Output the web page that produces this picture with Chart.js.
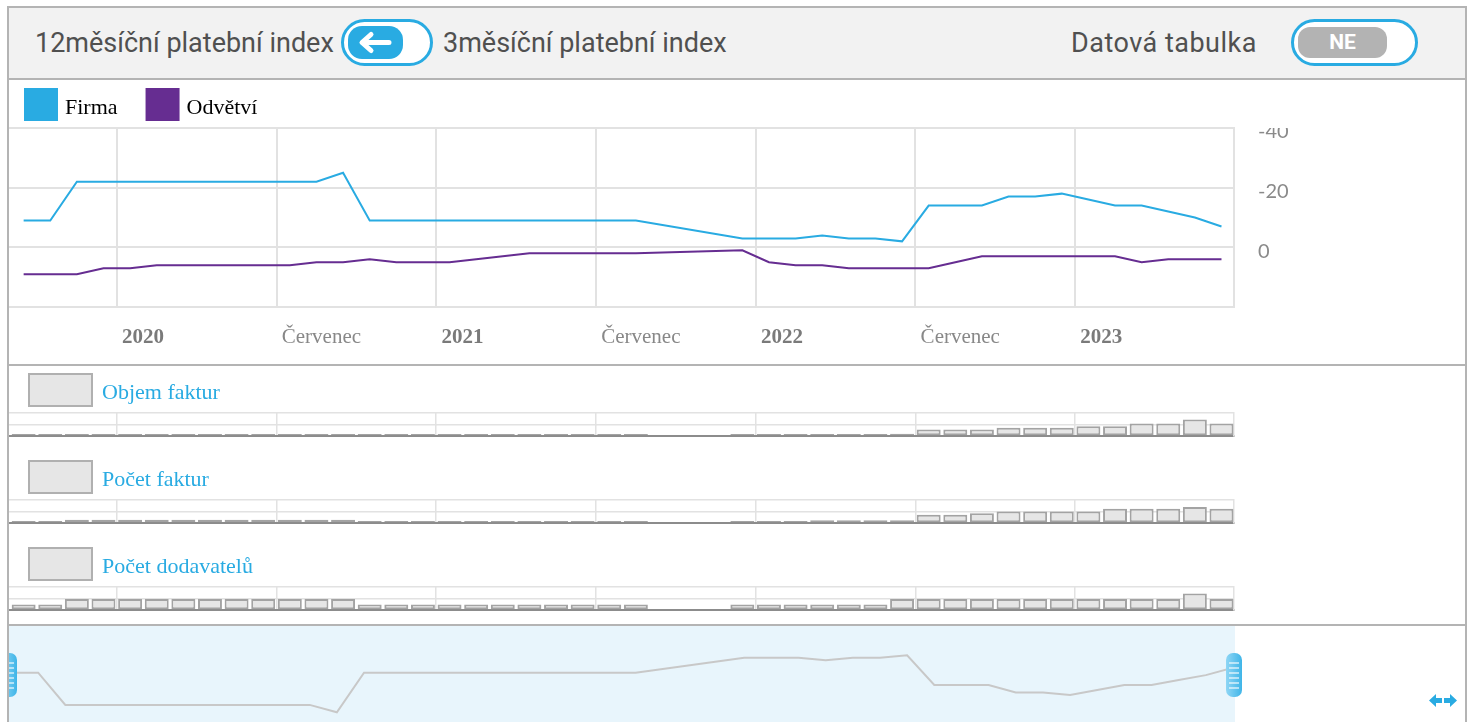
<!DOCTYPE html>
<html>
<head>
<meta charset="utf-8">
<script src="https://cdn.jsdelivr.net/npm/chart.js@4.4.1/dist/chart.umd.min.js"></script>
<style>
body{margin:0;background:#fff;width:1472px;height:722px;overflow:hidden;position:relative;font-family:Roboto,sans-serif}
.abs{position:absolute}
#frame{left:7px;top:6px;width:1456px;height:730px;border:2px solid #b4b4b4}
#head{left:9px;top:8px;width:1456px;height:70px;background:#f2f2f2;border-bottom:2px solid #b4b4b4}
.lbl{top:28px;font-size:27px;line-height:30px;color:#505050;white-space:nowrap}
.tog{top:19px;height:47px;box-sizing:border-box;border:3px solid #29abe2;border-radius:24px;background:#fff}
.sep{left:9px;width:1456px;height:2px;background:#b4b4b4}
canvas{position:absolute}
</style>
</head>
<body>
<div id="frame" class="abs"></div>
<div id="head" class="abs"></div>
<div class="abs lbl" style="left:35px">12měsíční platební index</div>
<div class="abs tog" style="left:341px;width:92px"></div>
<div class="abs" style="left:348px;top:26px;width:55px;height:33px;border-radius:14px;background:#29abe2">
  <svg width="55" height="33" viewBox="0 0 55 33"><path d="M41 16.5H15M23 8.5L14 16.5L23 24.5" fill="none" stroke="#fff" stroke-width="5" stroke-linecap="round" stroke-linejoin="round"/></svg>
</div>
<div class="abs lbl" style="left:443px">3měsíční platební index</div>
<div class="abs lbl" style="left:1071px;letter-spacing:0.5px">Datová tabulka</div>
<div class="abs tog" style="left:1291px;width:127px"></div>
<div class="abs" style="left:1298px;top:27px;width:89px;height:31px;border-radius:12px;background:#b3b3b3;color:#fff;font-weight:bold;font-size:21px;line-height:31px;text-align:center">NE</div>

<canvas id="main" width="1456" height="284" style="left:9px;top:80px"></canvas>
<div class="abs sep" style="top:364px"></div>
<canvas id="bar1" width="1456" height="84" style="left:9px;top:366px"></canvas>
<canvas id="bar2" width="1456" height="84" style="left:9px;top:453px"></canvas>
<canvas id="bar3" width="1456" height="84" style="left:9px;top:540px"></canvas>
<div class="abs sep" style="top:624px"></div>
<canvas id="nav" width="1456" height="96" style="left:9px;top:626px"></canvas>

<script>
// months Sep 2019 .. Jun 2023
var months = ['2019-09','2019-10','2019-11','2019-12',
  '2020-01','2020-02','2020-03','2020-04','2020-05','2020-06','2020-07','2020-08','2020-09','2020-10','2020-11','2020-12',
  '2021-01','2021-02','2021-03','2021-04','2021-05','2021-06','2021-07','2021-08','2021-09','2021-10','2021-11','2021-12',
  '2022-01','2022-02','2022-03','2022-04','2022-05','2022-06','2022-07','2022-08','2022-09','2022-10','2022-11','2022-12',
  '2023-01','2023-02','2023-03','2023-04','2023-05','2023-06'];

var firma = [-9,-9,-22,-22,-22,-22,-22,-22,-22,-22,-22,-22,-25,-9,-9,-9,-9,-9,-9,-9,-9,-9,-9,-9,
  null,null,null,-3,-3,-3,-4,-3,-3,-2,-14,-14,-14,-17,-17,-18,-16,-14,-14,-12,-10,-7];
var odvetvi = [9,9,9,7,7,6,6,6,6,6,6,5,5,4,5,5,5,4,3,2,2,2,2,2,
  null,null,null,1,5,6,6,7,7,7,7,5,3,3,3,3,3,3,5,4,4,4];

var objemFaktur = [1,1,1,1,1,1,1,1,1,1,1,1,1,1,1,1,1,1,1,1,1,1,1,1,
  null,null,null,1,1,1,1,1,1,4,12,12,12,15,15,15,18,18,23,23,30,23];
var pocetFaktur = [1,1,6,6,6,6,6,6,6,6,6,6,6,1,1,1,1,1,1,1,1,1,1,1,
  null,null,null,1,1,1,5,5,5,5,15,15,18,21,21,21,21,26,26,26,29,26];
var pocetDodavatelu = [1,1,2,2,2,2,2,2,2,2,2,2,2,1,1,1,1,1,1,1,1,1,1,1,
  null,null,null,1,1,1,1,1,1,2,2,2,2,2,2,2,2,2,2,2,3,2];

// x tick positions (month index, half = 1st day of month)
var xTicks = [3.5, 9.5, 15.5, 21.5, 27.5, 33.5, 39.5];
var xTickLabels = ['2020', 'Červenec', '2021', 'Červenec', '2022', 'Červenec', '2023'];
var yTicks = [-40, -20, 0, 20];
var yTickLabels = ['-40', '-20', '0', ''];

var xMin = -0.55, xMax = 45.47;
var gridColor = '#e2e2e2';

function points(arr) {
    var out = [];
    arr.forEach(function (v, i) { out.push({x: i, y: v}); });
    return out;
}
function barPoints(arr) {
    return points(arr).filter(function (p) { return p.y !== null; });
}

var mainLegend = {
    id: 'mainLegend',
    afterDraw: function (chart) {
        var ctx = chart.ctx;
        ctx.save();
        ctx.font = '22px "Liberation Serif"';
        ctx.textBaseline = 'middle';
        var x = 15;
        chart.data.datasets.forEach(function (ds) {
            ctx.fillStyle = ds.borderColor;
            ctx.fillRect(x, 8, 34, 33);
            ctx.fillStyle = '#000';
            ctx.fillText(ds.label, x + 41, 28);
            x += 41 + ctx.measureText(ds.label).width + 28;
        });
        ctx.restore();
    }
};

var yLabels = {
    id: 'yLabels',
    afterDraw: function (chart) {
        var ctx = chart.ctx, area = chart.chartArea, y = chart.scales.y;
        ctx.save();
        ctx.beginPath();
        ctx.rect(0, area.top, chart.width, chart.height - area.top);
        ctx.clip();
        ctx.font = '20px Lato';
        ctx.fillStyle = '#8a8a8a';
        ctx.textBaseline = 'middle';
        yTicks.forEach(function (v, i) {
            ctx.fillText(yTickLabels[i], area.right + 24, y.getPixelForValue(v) + 4);
        });
        ctx.restore();
    }
};

new Chart(document.getElementById('main'), {
    type: 'line',
    data: {
        datasets: [{
            label: 'Firma',
            data: points(firma),
            borderColor: '#29abe2',
            borderWidth: 2,
            pointRadius: 0,
            spanGaps: true
        }, {
            label: 'Odvětví',
            data: points(odvetvi),
            borderColor: '#662d91',
            borderWidth: 2,
            pointRadius: 0,
            spanGaps: true
        }]
    },
    options: {
        responsive: false,
        animation: false,
        layout: {padding: {top: 48}},
        plugins: {legend: {display: false}, tooltip: {enabled: false}},
        scales: {
            x: {
                type: 'linear', min: xMin, max: xMax,
                afterBuildTicks: function (s) { s.ticks = xTicks.map(function (v) { return {value: v}; }); },
                afterFit: function (s) { s.height = 57; },
                grid: {color: gridColor, lineWidth: 2, drawTicks: false},
                border: {display: false},
                ticks: {
                    autoSkip: false, maxRotation: 0, align: 'start', padding: 18,
                    callback: function (v, i) { return ' ' + xTickLabels[i]; },
                    color: function (c) { return c.index % 2 === 0 ? '#7a7a7a' : '#888'; },
                    font: function (c) {
                        return {family: '"Liberation Serif"', size: 21, weight: c.index % 2 === 0 ? 'bold' : 'normal'};
                    }
                }
            },
            y: {
                position: 'right', reverse: true, min: -40, max: 20,
                afterBuildTicks: function (s) { s.ticks = yTicks.map(function (v) { return {value: v}; }); },
                afterFit: function (s) { s.width = 231; },
                grid: {color: gridColor, lineWidth: 2, drawTicks: false},
                border: {display: true, color: gridColor, width: 2},
                ticks: {display: false}
            }
        }
    },
    plugins: [mainLegend, yLabels]
});

var panelTitle = {
    id: 'panelTitle',
    afterDraw: function (chart, args, opts) {
        var ctx = chart.ctx;
        ctx.save();
        ctx.fillStyle = '#e6e6e6';
        ctx.strokeStyle = '#b0b0b0';
        ctx.lineWidth = 2;
        ctx.fillRect(20, 8, 63, 32);
        ctx.strokeRect(20, 8, 63, 32);
        ctx.font = '22px "Liberation Serif"';
        ctx.fillStyle = '#29abe2';
        ctx.textBaseline = 'middle';
        ctx.fillText(opts.text, 93, 27);
        ctx.restore();
    }
};

function barChart(id, title, values, max, ticks) {
    return new Chart(document.getElementById(id), {
        type: 'bar',
        data: {
            datasets: [{
                label: title,
                data: barPoints(values),
                backgroundColor: '#e6e6e6',
                borderColor: '#a3a3a3',
                borderWidth: 2,
                borderSkipped: false,
                minBarLength: 2,
                barPercentage: 0.9,
                categoryPercentage: 1
            }]
        },
        options: {
            responsive: false,
            animation: false,
            layout: {padding: {top: 47, bottom: 14}},
            plugins: {legend: {display: false}, tooltip: {enabled: false}, panelTitle: {text: title}},
            scales: {
                x: {
                    type: 'linear', min: xMin, max: xMax, offset: false, z: 1,
                    afterBuildTicks: function (s) { s.ticks = xTicks.map(function (v) { return {value: v}; }); },
                    grid: {color: gridColor, lineWidth: 1.5, drawTicks: false, offset: false},
                    border: {display: true, color: '#8c8c8c', width: 2},
                    ticks: {display: false}
                },
                y: {
                    position: 'right', min: 0, max: max,
                    afterBuildTicks: function (s) { s.ticks = ticks.map(function (v) { return {value: v}; }); },
                    afterFit: function (s) { s.width = 231; },
                    grid: {color: gridColor, lineWidth: 1.5, drawTicks: false},
                    border: {display: true, color: gridColor, width: 1.5},
                    ticks: {display: false}
                }
            }
        },
        plugins: [panelTitle]
    });
}

barChart('bar1', 'Objem faktur', objemFaktur, 42, [0, 20, 42]);
barChart('bar2', 'Počet faktur', pocetFaktur, 42, [0, 20, 42]);
barChart('bar3', 'Počet dodavatelů', pocetDodavatelu, 4.2, [0, 2, 4.2]);

var navDecor = {
    id: 'navDecor',
    beforeDraw: function (chart) {
        var ctx = chart.ctx;
        ctx.save();
        ctx.fillStyle = '#e8f5fc';
        ctx.fillRect(0, 0, chart.chartArea.right + 2, chart.height);
        ctx.restore();
    },
    afterDraw: function (chart) {
        var ctx = chart.ctx, area = chart.chartArea;
        ctx.save();
        [0, area.right + 1].forEach(function (cx) {
            var g = ctx.createLinearGradient(cx - 8, 0, cx + 8, 0);
            g.addColorStop(0, '#8fd6f5');
            g.addColorStop(1, '#3fb5e8');
            ctx.fillStyle = g;
            ctx.beginPath();
            ctx.roundRect(cx - 8, 27, 16, 44, 7);
            ctx.fill();
            ctx.strokeStyle = 'rgba(255,255,255,0.75)';
            ctx.lineWidth = 1.5;
            for (var k = 0; k < 6; k++) {
                var yy = 37 + k * 5;
                ctx.beginPath();
                ctx.moveTo(cx - 5, yy);
                ctx.lineTo(cx + 5, yy);
                ctx.stroke();
            }
        });
        // range arrows, bottom right
        ctx.fillStyle = '#29abe2';
        ctx.beginPath();
        ctx.moveTo(1420, 74.5); ctx.lineTo(1427, 68); ctx.lineTo(1427, 72); ctx.lineTo(1433, 72);
        ctx.lineTo(1433, 77); ctx.lineTo(1427, 77); ctx.lineTo(1427, 81); ctx.closePath();
        ctx.fill();
        ctx.beginPath();
        ctx.moveTo(1448, 74.5); ctx.lineTo(1441, 68); ctx.lineTo(1441, 72); ctx.lineTo(1435, 72);
        ctx.lineTo(1435, 77); ctx.lineTo(1441, 77); ctx.lineTo(1441, 81); ctx.closePath();
        ctx.fill();
        ctx.restore();
    }
};

new Chart(document.getElementById('nav'), {
    type: 'line',
    data: {
        datasets: [{
            label: 'Firma',
            data: points(firma),
            borderColor: '#c8c8c8',
            borderWidth: 2,
            pointRadius: 0,
            spanGaps: true
        }]
    },
    options: {
        responsive: false,
        animation: false,
        layout: {padding: {left: 2, right: 232, top: 0, bottom: 0}},
        plugins: {legend: {display: false}, tooltip: {enabled: false}},
        scales: {
            x: {type: 'linear', display: false, min: 0, max: 45},
            y: {display: false, min: -28.9, max: 9.8}
        }
    },
    plugins: [navDecor]
});
</script>
</body>
</html>
